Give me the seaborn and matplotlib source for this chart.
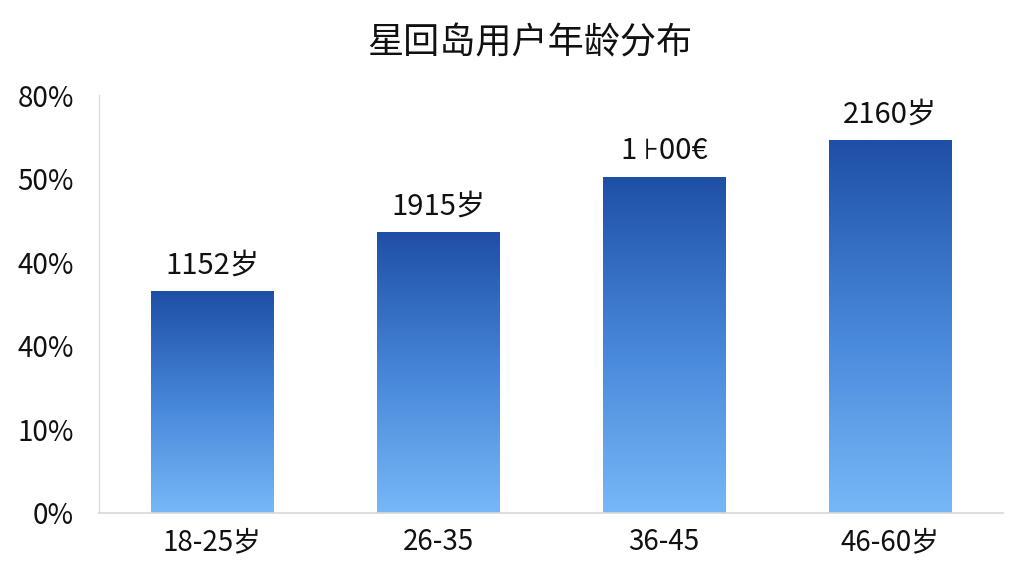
import matplotlib
matplotlib.use("Agg")
import matplotlib.pyplot as plt
import seaborn as sns
import numpy as np
import pandas as pd
from matplotlib.colors import LinearSegmentedColormap

# data
age_groups = ['18-25岁', '26-35', '36-45', '46-60岁']
share = [26.5, 33.6, 40.2, 44.6]
bar_labels = ['1152岁', '1915岁', '1 ⊦00€', '2160岁']
ytick_pos = [0, 10, 20, 30, 40, 50]
ytick_labels = ['0%', '10%', '40%', '40%', '50%', '80%']

sns.set_style("white")
plt.rcParams['font.family'] = ['Noto Sans CJK SC', 'DejaVu Sans']

df = pd.DataFrame({'age': age_groups, 'share': share})

fig = plt.figure(figsize=(10.24, 5.76), dpi=100)
ax = fig.add_axes([0.0967, 0.1094, 0.8828, 0.7256])

sns.barplot(data=df, x='age', y='share', color='#2f6cc4', width=0.54, ax=ax, zorder=2)

# vertical gradient on every bar, dark on top, light at the bottom
grad_cmap = LinearSegmentedColormap.from_list('bluegrad', ['#76b8f7', '#4686d9', '#1e4fa6'])
gradient = np.linspace(0, 1, 256).reshape(-1, 1)
for p in ax.patches:
    x0, y0 = p.get_x(), p.get_y()
    w, h = p.get_width(), p.get_height()
    p.set_facecolor('none')
    p.set_edgecolor('none')
    im = ax.imshow(gradient, cmap=grad_cmap, origin='lower', aspect='auto',
                   extent=[x0, x0 + w, y0, y0 + h], zorder=2)
    im.set_clip_path(p)

for i, (v, lab) in enumerate(zip(share, bar_labels)):
    ax.text(i, v + 1.3, lab, ha='center', va='bottom', fontsize=21, color='#111111')

ax.set_xlim(-0.5, 3.5)
ax.set_ylim(0, 50)
ax.set_yticks(ytick_pos)
ax.set_yticklabels(ytick_labels)
ax.tick_params(axis='y', labelsize=20, colors='#111111', length=0, pad=18)
ax.tick_params(axis='x', labelsize=20, colors='#111111', length=0, pad=10)
ax.set_xlabel('')
ax.set_ylabel('')

for side in ['top', 'right']:
    ax.spines[side].set_visible(False)
ax.spines['left'].set_color('#dddddd')
ax.spines['bottom'].set_color('#d8d8d8')
ax.spines['left'].set_linewidth(1)
ax.spines['bottom'].set_linewidth(1.2)

fig.text(0.517, 0.925, '星回岛用户年龄分布', ha='center', va='center', fontsize=26, color='#111111')

fig.savefig('out.png', dpi=100, facecolor='white')
